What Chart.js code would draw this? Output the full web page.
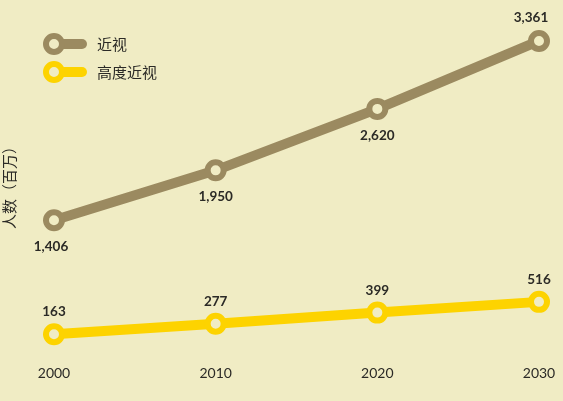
<!DOCTYPE html>
<html>
<head>
<script src="https://cdn.jsdelivr.net/npm/chart.js@4"></script>
<style>
  html, body { margin:0; padding:0; background:#f0ecc4; }
  .canvas-hold { position:relative; width:563px; height:401px; }
</style>
</head>
<body>
<div class="canvas-hold"><canvas id="c"></canvas></div>
<script>
const years = ['2000', '2010', '2020', '2030'];
const myopia = [1406, 1950, 2620, 3361];
const highMyopia = [163, 277, 399, 516];
const seriesNames = ['近视', '高度近视'];
const yTitle = '人数（百万）';

const bg = '#f0ecc4';
const brown = '#9b8a60';
const yellow = '#fdd300';
const ink = '#2b2a26';

function fmt(v){ return v.toLocaleString('en-US'); }

// value labels: brown below (last above), yellow above
const labelPlugin = {
  id: 'valueLabels',
  afterDatasetsDraw(chart){
    const ctx = chart.ctx;
    ctx.save();
    ctx.font = 'bold 13.5px Lato';
    ctx.fillStyle = ink;
    ctx.textAlign = 'center';
    chart.data.datasets.forEach((ds, di) => {
      const meta = chart.getDatasetMeta(di);
      meta.data.forEach((pt, i) => {
        let x = pt.x, y;
        if (di === 0) {
          if (i === ds.data.length - 1) { y = pt.y - 19; x -= 8; }
          else { y = pt.y + 31; if (i === 0) x -= 3; }
        } else {
          y = pt.y - 18;
        }
        ctx.fillText(fmt(ds.data[i]), x, y);
      });
    });
    ctx.restore();
  }
};

// legend: key-shaped marker + name
const legendPlugin = {
  id: 'keyLegend',
  afterDraw(chart){
    const ctx = chart.ctx;
    ctx.save();
    chart.data.datasets.forEach((ds, di) => {
      const cy = 44 + di * 28;
      const cx = 54;
      ctx.strokeStyle = ds.borderColor;
      ctx.lineCap = 'round';
      ctx.lineWidth = 10;
      ctx.beginPath(); ctx.moveTo(cx, cy); ctx.lineTo(82, cy); ctx.stroke();
      ctx.lineWidth = 6;
      ctx.fillStyle = bg;
      ctx.beginPath(); ctx.arc(cx, cy, 8, 0, Math.PI * 2); ctx.fill(); ctx.stroke();
      ctx.fillStyle = ink;
      ctx.font = '15px "Noto Sans CJK SC"';
      ctx.textAlign = 'left';
      ctx.textBaseline = 'middle';
      ctx.fillText(ds.label, 97, cy);
    });
    ctx.restore();
  }
};

const mk = (label, data, color) => ({
  label, data,
  borderColor: color,
  backgroundColor: bg,
  borderWidth: 10,
  pointRadius: 8,
  pointHoverRadius: 8,
  pointBorderWidth: 6,
  pointBackgroundColor: bg,
  pointBorderColor: color,
  tension: 0
});

new Chart(document.getElementById('c').getContext('2d'), {
  type: 'line',
  data: {
    labels: years,
    datasets: [mk(seriesNames[0], myopia, brown), mk(seriesNames[1], highMyopia, yellow)]
  },
  options: {
    responsive: true,
    maintainAspectRatio: false,
    animation: false,
    layout: { padding: { top: 19, right: 24, bottom: 3, left: 0 } },
    plugins: { legend: { display: false }, tooltip: { enabled: false } },
    scales: {
      x: {
        offset: false,
        grid: { display: false, drawTicks: false },
        border: { display: false },
        ticks: { color: ink, font: { family: 'Lato', size: 14 }, padding: 16 },
        afterFit(s){ s.paddingRight = 0; }
      },
      y: {
        min: 0, max: 3600,
        grid: { display: false, drawTicks: false },
        border: { display: false },
        ticks: { display: false },
        title: {
          display: true, text: yTitle, color: ink,
          font: { family: '"Noto Sans CJK SC"', size: 15 },
          padding: { top: 0, bottom: 36 }
        }
      }
    }
  },
  plugins: [labelPlugin, legendPlugin]
});
</script>
</body>
</html>
